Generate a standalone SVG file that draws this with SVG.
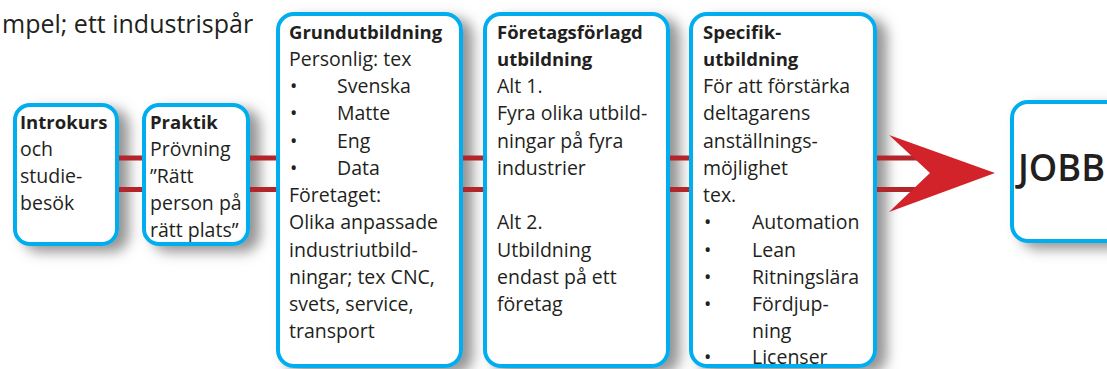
<svg xmlns="http://www.w3.org/2000/svg" width="1107" height="369" viewBox="0 0 1107 369">
<defs>
<filter id="sh" x="-20%" y="-20%" width="150%" height="150%">
<feDropShadow dx="10" dy="6" stdDeviation="6.5" flood-color="#707070" flood-opacity="0.75"/>
</filter>
<linearGradient id="bar" x1="0" y1="0" x2="1" y2="0">
<stop offset="0" stop-color="#9c1c24"/>
<stop offset="0.5" stop-color="#c0262e"/>
<stop offset="1" stop-color="#9c1c24"/>
</linearGradient>
</defs>
<style>
.box{fill:#ffffff;stroke:#00aeef;stroke-width:4}
.t{font-family:"Open Sans","Liberation Sans",sans-serif;font-size:19.5px;fill:#231f20}
.b{font-weight:bold;font-size:18.5px}
.bar{fill:#b3242b}
</style>
<rect width="1107" height="369" fill="#ffffff"/>
<text class="t" x="2" y="33" style="font-size:25px">mpel; ett industrispår</text>

<g id="intro">
<rect class="box" x="15" y="105" width="102" height="139" rx="15" filter="url(#sh)"/>
<text class="t" x="20"><tspan x="20" y="129" class="b">Introkurs</tspan><tspan x="20" y="156">och</tspan><tspan x="20" y="183">studie-</tspan><tspan x="20" y="210">besök</tspan></text>
</g>
<g id="praktik">
<rect class="box" x="144" y="105" width="104" height="139" rx="15" filter="url(#sh)"/>
<text class="t"><tspan x="150" y="129" class="b">Praktik</tspan><tspan x="150" y="156">Prövning</tspan><tspan x="150" y="183">”Rätt</tspan><tspan x="150" y="210">person på</tspan><tspan x="150" y="237">rätt plats”</tspan></text>
</g>
<g id="grund">
<rect class="box" x="278" y="14" width="183" height="352" rx="16" filter="url(#sh)"/>
<text class="t"><tspan x="289" y="39" class="b">Grundutbildning</tspan><tspan x="289" y="66">Personlig: tex</tspan><tspan x="290" y="93">•</tspan><tspan x="337" y="93">Svenska</tspan><tspan x="290" y="120">•</tspan><tspan x="337" y="120">Matte</tspan><tspan x="290" y="148">•</tspan><tspan x="337" y="148">Eng</tspan><tspan x="290" y="175">•</tspan><tspan x="337" y="175">Data</tspan><tspan x="289" y="202">Företaget:</tspan><tspan x="289" y="229">Olika anpassade</tspan><tspan x="289" y="257">industriutbild-</tspan><tspan x="289" y="284">ningar; tex CNC,</tspan><tspan x="289" y="311">svets, service,</tspan><tspan x="289" y="338">transport</tspan></text>
</g>
<g id="foretag">
<rect class="box" x="485" y="14" width="183" height="352" rx="16" filter="url(#sh)"/>
<text class="t"><tspan x="497" y="39" class="b">Företagsförlagd</tspan><tspan x="497" y="66" class="b">utbildning</tspan><tspan x="497" y="93">Alt 1.</tspan><tspan x="497" y="120">Fyra olika utbild-</tspan><tspan x="497" y="148">ningar på fyra</tspan><tspan x="497" y="175">industrier</tspan><tspan x="497" y="229">Alt 2.</tspan><tspan x="497" y="257">Utbildning</tspan><tspan x="497" y="284">endast på ett</tspan><tspan x="497" y="311">företag</tspan></text>
</g>
<g id="specifik">
<rect class="box" x="691" y="14" width="184" height="352" rx="16" filter="url(#sh)"/>
<text class="t"><tspan x="703" y="39" class="b">Specifik-</tspan><tspan x="703" y="66" class="b">utbildning</tspan><tspan x="703" y="93">För att förstärka</tspan><tspan x="703" y="120">deltagarens</tspan><tspan x="703" y="148">anställnings-</tspan><tspan x="703" y="175">möjlighet</tspan><tspan x="703" y="202">tex.</tspan><tspan x="704" y="229">•</tspan><tspan x="752" y="229">Automation</tspan><tspan x="704" y="257">•</tspan><tspan x="752" y="257">Lean</tspan><tspan x="704" y="284">•</tspan><tspan x="752" y="284">Ritningslära</tspan><tspan x="704" y="311">•</tspan><tspan x="752" y="311">Fördjup-</tspan><tspan x="752" y="338">ning</tspan><tspan x="704" y="364">•</tspan><tspan x="752" y="364">Licenser</tspan></text>
</g>
<g id="jobb">
<rect class="box" x="1012" y="102" width="130" height="139" rx="16" filter="url(#sh)"/>
<text class="t" x="1018" y="181" style="font-size:37px;font-weight:600" textLength="87" lengthAdjust="spacingAndGlyphs">JOBB</text>
</g>

<g id="connectors">
<rect class="bar" x="119" y="155.5" width="23" height="5" fill="url(#bar)"/>
<rect class="bar" x="119" y="187" width="23" height="5" fill="url(#bar)"/>
<rect class="bar" x="250" y="155.5" width="26" height="5" fill="url(#bar)"/>
<rect class="bar" x="250" y="187" width="26" height="5" fill="url(#bar)"/>
<rect class="bar" x="463" y="155.5" width="20" height="5" fill="url(#bar)"/>
<rect class="bar" x="463" y="187" width="20" height="5" fill="url(#bar)"/>
<rect class="bar" x="670" y="155.5" width="19" height="5" fill="url(#bar)"/>
<rect class="bar" x="670" y="187" width="19" height="5" fill="url(#bar)"/>
<rect class="bar" x="877" y="155.5" width="45" height="5"/>
<rect class="bar" x="877" y="187" width="45" height="5"/>
<polygon points="889,135 995,173 889,212 930,173" fill="#d2232a"/>
</g>
</svg>
